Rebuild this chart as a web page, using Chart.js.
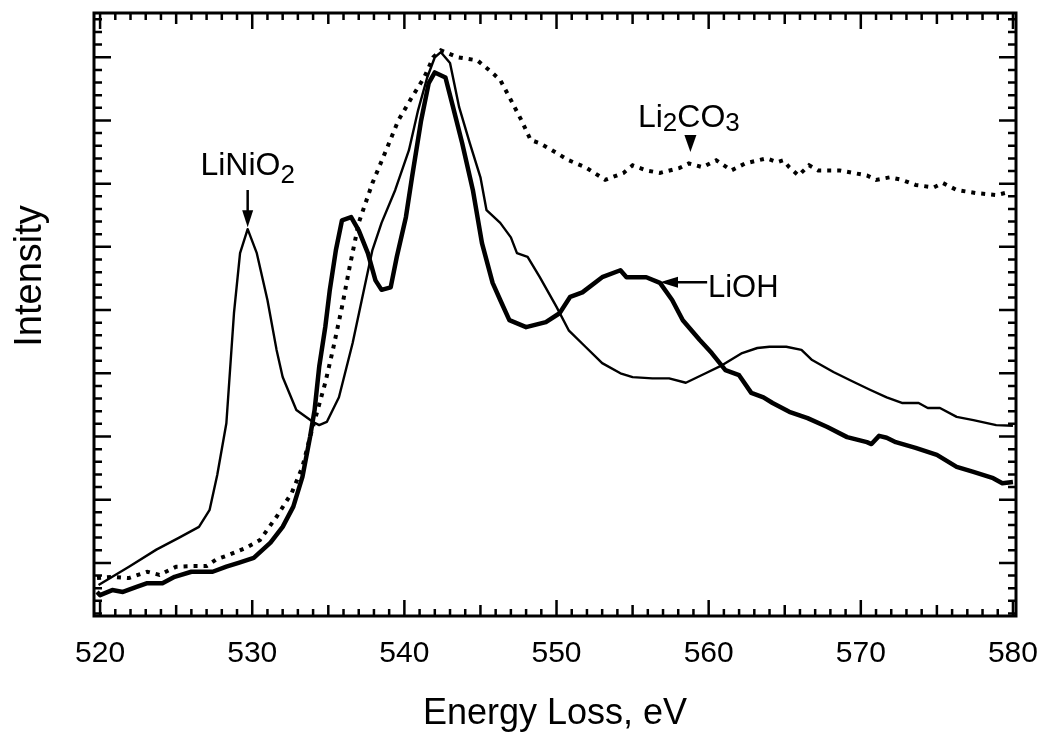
<!DOCTYPE html>
<html>
<head>
<meta charset="utf-8">
<script src="https://cdn.jsdelivr.net/npm/chart.js@4.4.0/dist/chart.umd.min.js"></script>
<style>
  html, body { margin: 0; padding: 0; background: #fff; }
</style>
</head>
<body>
<canvas id="graficoEels" width="1040" height="740"></canvas>
<script>
// eixo x (eV) e intensidade (unidades arbitrarias)
const energiaLiNiO2 = [519.9, 521.9, 523.7, 525.2, 526.5, 527.2, 527.7, 528.3, 528.8, 529.2, 529.7, 530.3, 531.0, 531.6, 532.0, 532.9, 534.0, 534.4, 534.9, 535.7, 536.6, 537.2, 537.9, 538.5, 539.4, 540.3, 540.9, 541.5, 542.0, 542.4, 543.0, 543.6, 544.3, 545.0, 545.4, 546.3, 547.0, 547.4, 548.1, 548.9, 550.0, 550.8, 551.9, 553.0, 554.2, 555.0, 556.3, 557.4, 558.5, 559.8, 560.9, 562.2, 563.2, 564.0, 565.1, 566.1, 566.8, 568.2, 569.3, 570.6, 571.7, 572.7, 573.8, 574.4, 575.2, 576.3, 577.4, 578.9, 580.0];
const intensLiNiO2 = [-3.5, -0.6, 2.1, 4.0, 5.7, 8.4, 13.9, 22.1, 39.5, 49.0, 52.8, 49.0, 41.6, 33.7, 29.4, 24.2, 22.3, 21.8, 22.3, 26.2, 34.8, 41.6, 49.5, 53.8, 59.0, 65.3, 71.6, 76.8, 80.0, 80.8, 79.1, 72.1, 66.4, 61.0, 55.8, 53.8, 51.5, 49.0, 48.4, 45.2, 40.5, 36.8, 34.2, 31.6, 30.0, 29.4, 29.2, 29.2, 28.5, 30.0, 31.3, 33.2, 34.0, 34.2, 34.2, 33.7, 32.1, 30.2, 28.9, 27.4, 26.2, 25.3, 25.3, 24.5, 24.5, 23.1, 22.6, 21.8, 21.7];

const energiaLiOH = [519.8, 520.0, 520.8, 521.5, 522.4, 523.1, 524.1, 524.9, 526.0, 527.4, 528.3, 529.1, 530.1, 531.2, 532.0, 532.7, 533.3, 533.8, 534.1, 534.4, 534.8, 535.1, 535.5, 535.9, 536.5, 537.0, 537.6, 538.1, 538.5, 539.1, 539.5, 540.1, 540.5, 541.1, 541.6, 542.0, 542.7, 543.2, 543.8, 544.5, 545.1, 545.8, 546.3, 546.9, 548.0, 549.3, 550.2, 550.9, 551.7, 553.0, 554.2, 554.6, 555.9, 556.8, 557.6, 558.3, 559.4, 560.2, 561.1, 562.0, 562.8, 563.6, 564.2, 565.3, 566.5, 567.8, 569.1, 570.4, 570.7, 571.2, 571.7, 572.3, 573.6, 575.0, 576.3, 577.4, 578.7, 579.3, 580.0];
const intensLiOH = [-4.6, -5.1, -4.3, -4.6, -3.8, -3.2, -3.2, -2.2, -1.4, -1.4, -0.6, 0.0, 0.8, 3.2, 5.7, 8.9, 13.6, 19.9, 24.2, 31.0, 37.3, 43.2, 49.5, 54.2, 54.7, 52.6, 49.0, 44.7, 43.2, 43.6, 48.4, 54.7, 61.0, 70.0, 75.9, 77.6, 76.8, 72.1, 66.4, 59.0, 50.6, 44.3, 41.6, 38.4, 37.3, 38.1, 39.5, 42.1, 42.8, 45.2, 46.3, 45.2, 45.2, 44.3, 41.6, 38.4, 35.3, 33.2, 30.5, 29.7, 26.9, 26.2, 25.3, 23.9, 22.9, 21.5, 19.9, 19.1, 18.8, 20.1, 19.8, 19.1, 18.2, 17.1, 15.2, 14.4, 13.4, 12.6, 12.8];

const energiaLi2CO3 = [519.8, 520.8, 521.9, 523.1, 523.9, 525.0, 526.0, 527.0, 527.6, 528.5, 529.6, 530.5, 531.6, 532.6, 533.3, 533.8, 534.3, 534.8, 535.3, 535.9, 536.4, 537.0, 537.9, 538.8, 539.6, 540.5, 541.3, 541.9, 542.4, 543.5, 544.8, 545.8, 546.3, 546.9, 547.7, 548.3, 548.9, 549.7, 550.8, 551.9, 553.2, 554.4, 555.0, 555.9, 556.8, 558.1, 558.7, 559.6, 560.5, 561.5, 562.4, 563.8, 564.5, 564.9, 565.3, 565.9, 566.6, 567.2, 568.6, 569.5, 570.4, 571.0, 571.9, 572.7, 573.6, 574.8, 575.4, 576.3, 577.6, 578.9, 579.8];
const intensLi2CO3 = [-2.4, -2.2, -2.4, -1.4, -1.9, -0.6, -0.5, -0.5, 0.5, 1.3, 2.4, 3.6, 7.3, 11.1, 15.2, 19.9, 24.2, 28.5, 33.7, 40.5, 46.8, 53.8, 60.1, 65.3, 70.0, 73.7, 76.8, 80.0, 81.1, 80.0, 79.5, 77.5, 76.4, 73.7, 70.0, 66.9, 66.4, 65.3, 63.7, 62.6, 60.6, 61.7, 62.9, 62.1, 61.7, 62.5, 63.2, 62.6, 63.7, 62.1, 63.2, 64.0, 63.4, 63.7, 62.6, 61.3, 62.9, 62.1, 62.1, 61.7, 61.3, 60.6, 61.0, 60.6, 59.8, 59.4, 60.1, 59.0, 58.5, 58.2, 58.7];

const rotulosX = [520, 530, 540, 550, 560, 570, 580];

const fonte = '"Liberation Sans", Arial, Helvetica, sans-serif';

function pontos(xs, ys) {
  return xs.map((x, i) => ({ x: x, y: ys[i] }));
}

// escreve formula quimica com subscritos
function escreveFormula(ctx, partes, px, py, centralizar, tam, desloc) {
  const tamSub = Math.round(tam * 0.8);
  let largura = 0;
  partes.forEach(([t, sub]) => {
    ctx.font = (sub ? tamSub : tam) + "px " + fonte;
    largura += ctx.measureText(t).width;
  });
  let xx = centralizar ? px - largura / 2 : px;
  partes.forEach(([t, sub]) => {
    ctx.font = (sub ? tamSub : tam) + "px " + fonte;
    ctx.fillText(t, xx, sub ? py + desloc : py);
    xx += ctx.measureText(t).width;
  });
}

function seta(ctx, x0, y0, x1, y1, comp, meia, haste) {
  const ang = Math.atan2(y1 - y0, x1 - x0);
  if (haste) {
    ctx.beginPath();
    ctx.moveTo(x0, y0);
    ctx.lineTo(x1 - Math.cos(ang) * comp * 0.5, y1 - Math.sin(ang) * comp * 0.5);
    ctx.stroke();
  }
  ctx.beginPath();
  ctx.moveTo(x1, y1);
  ctx.lineTo(x1 - Math.cos(ang) * comp - Math.sin(ang) * meia, y1 - Math.sin(ang) * comp + Math.cos(ang) * meia);
  ctx.lineTo(x1 - Math.cos(ang) * comp + Math.sin(ang) * meia, y1 - Math.sin(ang) * comp - Math.cos(ang) * meia);
  ctx.closePath();
  ctx.fill();
}

const moldura = {
  id: "moldura",
  afterDraw(chart) {
    const { ctx, chartArea: a, scales: { x, y } } = chart;
    ctx.save();
    ctx.strokeStyle = "#000";
    ctx.fillStyle = "#000";
    ctx.lineCap = "butt";

    // marcas para dentro, eixo x
    ctx.lineWidth = 2.5;
    for (let v = 520; v <= 580; v++) {
      const px = x.getPixelForValue(v);
      const len = v % 10 === 0 ? 16 : (v % 5 === 0 ? 11 : 7);
      ctx.beginPath();
      ctx.moveTo(px, a.bottom);
      ctx.lineTo(px, a.bottom - len);
      ctx.moveTo(px, a.top);
      ctx.lineTo(px, a.top + len);
      ctx.stroke();
    }
    // marcas para dentro, eixo y
    for (let v = -8; v <= 86; v += 2) {
      const py = y.getPixelForValue(v);
      const len = v % 10 === 0 ? 17 : 8;
      ctx.beginPath();
      ctx.moveTo(a.left, py);
      ctx.lineTo(a.left + len, py);
      ctx.moveTo(a.right, py);
      ctx.lineTo(a.right - len, py);
      ctx.stroke();
    }
    ctx.lineWidth = 3;
    ctx.strokeRect(a.left, a.top, a.right - a.left, a.bottom - a.top);

    // titulo do eixo y (um pouco acima do centro, como no original)
    ctx.save();
    ctx.translate(31, y.getPixelForValue(45.4));
    ctx.rotate(-Math.PI / 2);
    ctx.textAlign = "center";
    ctx.textBaseline = "middle";
    ctx.font = "38px " + fonte;
    ctx.fillText("Intensity", 0, 0);
    ctx.restore();

    // rotulos
    ctx.textAlign = "left";
    ctx.textBaseline = "alphabetic";
    ctx.lineWidth = 2.5;

    const xn = x.getPixelForValue(529.7);
    escreveFormula(ctx, [["LiNiO", 0], ["2", 1]], xn, y.getPixelForValue(61.3), true, 32, 8);
    seta(ctx, xn, y.getPixelForValue(59.0), xn, y.getPixelForValue(53.1), 17, 5.5, true);

    escreveFormula(ctx, [["Li", 0], ["2", 1], ["CO", 0], ["3", 1]], x.getPixelForValue(555.35), y.getPixelForValue(68.9), false, 32, 4);
    const xc = x.getPixelForValue(558.8);
    seta(ctx, xc, y.getPixelForValue(67.7), xc, y.getPixelForValue(65.0), 17, 6, false);

    const yo = y.getPixelForValue(44.4);
    seta(ctx, x.getPixelForValue(559.9), yo, x.getPixelForValue(556.8), yo, 18, 5.5, true);
    ctx.font = "31px " + fonte;
    ctx.fillText("LiOH", x.getPixelForValue(559.95), y.getPixelForValue(42.1));
    ctx.restore();
  }
};

const grafico = new Chart(document.getElementById("graficoEels"), {
  type: "line",
  data: {
    datasets: [
      {
        label: "LiNiO2",
        data: pontos(energiaLiNiO2, intensLiNiO2),
        borderColor: "#000",
        borderWidth: 2.4,
        pointRadius: 0,
        tension: 0,
        borderJoinStyle: "round",
      },
      {
        label: "LiOH",
        data: pontos(energiaLiOH, intensLiOH),
        borderColor: "#000",
        borderWidth: 4.5,
        pointRadius: 0,
        tension: 0,
        borderJoinStyle: "round",
      },
      {
        label: "Li2CO3",
        data: pontos(energiaLi2CO3, intensLi2CO3),
        borderColor: "#000",
        borderWidth: 4,
        borderDash: [4, 6],
        borderCapStyle: "butt",
        pointRadius: 0,
        tension: 0,
      },
    ],
  },
  options: {
    responsive: false,
    animation: false,
    devicePixelRatio: 1,
    layout: { padding: { top: 13, right: 24, left: 0, bottom: 0 } },
    plugins: { legend: { display: false }, tooltip: { enabled: false } },
    scales: {
      x: {
        type: "linear",
        min: 519.6,
        max: 580.2,
        afterBuildTicks: (s) => { s.ticks = rotulosX.map((v) => ({ value: v })); },
        afterFit: (s) => { s.height = 124; s.paddingLeft = 0; s.paddingRight = 0; },
        ticks: { color: "#000", font: { family: fonte, size: 30 }, padding: 20, maxRotation: 0, autoSkip: false },
        grid: { display: false, drawTicks: false },
        border: { display: false },
        title: { display: true, text: "Energy Loss, eV", color: "#000", font: { family: fonte, size: 36 }, padding: { top: 0, bottom: 4 } },
      },
      y: {
        type: "linear",
        min: -8.4,
        max: 87,
        afterFit: (s) => { s.width = 94; },
        ticks: { display: false },
        grid: { display: false, drawTicks: false },
        border: { display: false },
        title: { display: false },
      },
    },
  },
  plugins: [moldura],
});
</script>
</body>
</html>
